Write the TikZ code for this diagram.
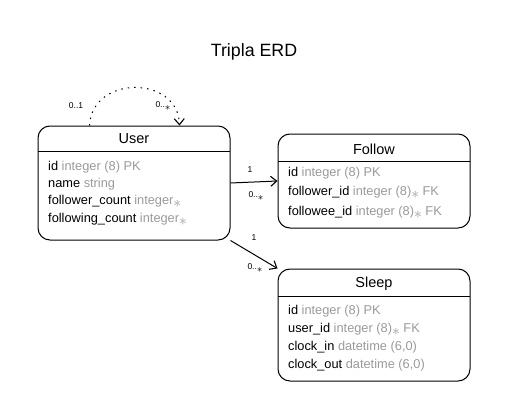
\documentclass[tikz,border=0pt]{standalone}
\usepackage{fontspec}
\setmainfont{Liberation Sans}
\usetikzlibrary{arrows.meta,calc}
\definecolor{tgray}{HTML}{9A9A9A}
\newcommand{\ty}[1]{\textcolor{tgray}{#1}}
\newcommand{\mult}{\raisebox{-3pt}{\scalebox{1.3}{$\ast$}}}
\tikzset{
  erbox/.style={draw, line width=1pt, rounded corners=12pt, inner sep=0pt},
  hdr/.style={font=\fontsize{14.5}{16}\selectfont, inner sep=0pt},
  row/.style={font=\fontsize{12.8}{14}\selectfont, anchor=west, inner sep=0pt},
  card/.style={font=\fontsize{8.5}{9}\selectfont, inner sep=0pt},
  rel/.style={line width=1pt, -{Straight Barb[length=6pt,width=10pt,line width=1.1pt]}},
  sep/.style={line width=1pt}
}
\begin{document}
\begin{tikzpicture}[x=1pt,y=-1pt]
\useasboundingbox (0,0) rectangle (509,420);
\node[font=\fontsize{17.8}{19}\selectfont] (title) at (254,52) {Tripla ERD};

% User
\node[erbox, minimum width=192pt, minimum height=114pt] (user) at (134,183) {};
\node[hdr] (userh) at (134,139) {User};
\draw[sep] (38,151) -- (230,151);
\node[row] (u1) at (48,167) {id \ty{integer (8) PK}};
\node[row] (u2) at (48,184) {name \ty{string}};
\node[row] (u3) at (48,201) {follower\_count \ty{integer\mult}};
\node[row] (u4) at (48,219) {following\_count \ty{integer\mult}};

% Follow
\node[erbox, minimum width=192pt, minimum height=94pt] (follow) at (374,181) {};
\node[hdr] (followh) at (374,149) {Follow};
\draw[sep] (278,161) -- (470,161);
\node[row] (f1) at (288,173) {id \ty{integer (8) PK}};
\node[row] (f2) at (288,192) {follower\_id \ty{integer (8)\mult{} FK}};
\node[row] (f3) at (288,212) {followee\_id \ty{integer (8)\mult{} FK}};

% Sleep
\node[erbox, minimum width=192pt, minimum height=112pt] (sleep) at (374,325) {};
\node[hdr] (sleeph) at (374,284) {Sleep};
\draw[sep] (278,296) -- (470,296);
\node[row] (s1) at (288,311) {id \ty{integer (8) PK}};
\node[row] (s2) at (288,329) {user\_id \ty{integer (8)\mult{} FK}};
\node[row] (s3) at (288,347) {clock\_in \ty{datetime (6,0)}};
\node[row] (s4) at (288,365) {clock\_out \ty{datetime (6,0)}};

% self relation
\coordinate (la) at ($(user.north west)+(52,0)$);
\coordinate (lb) at ($(user.north west)+(142,0)$);
\draw[rel, dash pattern=on 1.5pt off 5pt] (la) .. controls (92,75) and (178,75) .. (lb);
\node[card] (c1) at (76,106) {0..1};
\node[card] (c2) at (163,106) {0..\mult};

% User -> Follow
\draw[rel] (user.east) -- (follow.west);
\node[card] (c3) at (250,170) {1};
\node[card] (c4) at (256,196) {0..\mult};

% User -> Sleep
\draw[rel] (user.south east) -- (sleep.north west);
\node[card] (c5) at (254,238) {1};
\node[card] (c6) at (255,268) {0..\mult};
\end{tikzpicture}
\end{document}
